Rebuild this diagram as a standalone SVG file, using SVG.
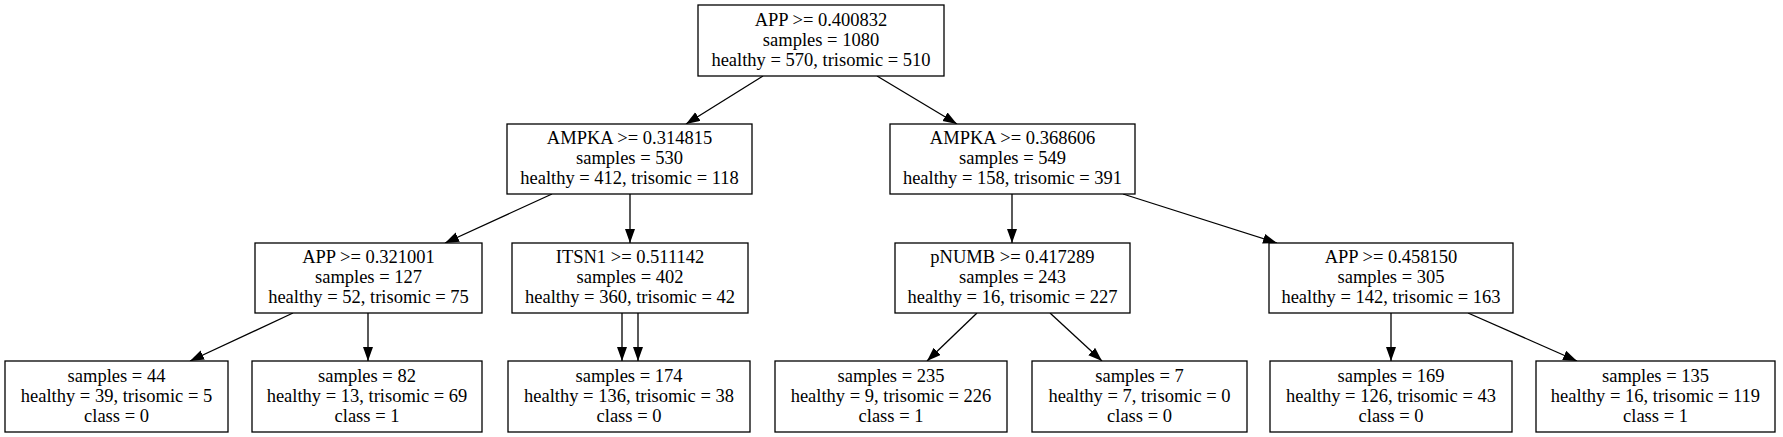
<svg xmlns="http://www.w3.org/2000/svg" width="1783" height="437" viewBox="0 0 1783 437">
<style>
.box{fill:#fff;stroke:#000;stroke-width:1.3}
.e{stroke:#000;stroke-width:1.3;fill:none;marker-end:url(#ah)}
text{font-family:"Liberation Serif","Times New Roman",serif;font-size:18.5px;fill:#000;text-anchor:middle}
</style>
<defs>
<marker id="ah" markerUnits="userSpaceOnUse" markerWidth="15" markerHeight="12" refX="14" refY="5" orient="auto">
<path d="M0,0 L14,5 L0,10 z" fill="#000"/>
</marker>
</defs>
<rect width="1783" height="437" fill="#fff"/>
<g id="connectors">
<line class="e" x1="763" y1="76" x2="686" y2="124"/>
<line class="e" x1="877" y1="76" x2="957" y2="124"/>
<line class="e" x1="552" y1="194" x2="445" y2="243"/>
<line class="e" x1="630" y1="194" x2="630" y2="243"/>
<line class="e" x1="1012" y1="194" x2="1012" y2="243"/>
<line class="e" x1="1123" y1="194" x2="1277" y2="243"/>
<line class="e" x1="293" y1="313" x2="190" y2="361"/>
<line class="e" x1="368" y1="313" x2="368" y2="361"/>
<line class="e" x1="622" y1="313" x2="622" y2="361"/>
<line class="e" x1="638" y1="313" x2="638" y2="361"/>
<line class="e" x1="977" y1="313" x2="927" y2="361"/>
<line class="e" x1="1050" y1="313" x2="1102" y2="361"/>
<line class="e" x1="1391" y1="313" x2="1391" y2="361"/>
<line class="e" x1="1468" y1="313" x2="1577" y2="361"/>
</g>
<g id="n0"><rect class="box" x="698" y="5" width="246" height="71"/>
<text x="821" y="26">APP &gt;= 0.400832</text><text x="821" y="46">samples = 1080</text><text x="821" y="66">healthy = 570, trisomic = 510</text></g>
<g id="n1"><rect class="box" x="507" y="124" width="245" height="70"/>
<text x="629.5" y="144">AMPKA &gt;= 0.314815</text><text x="629.5" y="164">samples = 530</text><text x="629.5" y="184">healthy = 412, trisomic = 118</text></g>
<g id="n2"><rect class="box" x="890" y="124" width="245" height="70"/>
<text x="1012.5" y="144">AMPKA &gt;= 0.368606</text><text x="1012.5" y="164">samples = 549</text><text x="1012.5" y="184">healthy = 158, trisomic = 391</text></g>
<g id="n3"><rect class="box" x="255" y="243" width="227" height="70"/>
<text x="368.5" y="263">APP &gt;= 0.321001</text><text x="368.5" y="283">samples = 127</text><text x="368.5" y="303">healthy = 52, trisomic = 75</text></g>
<g id="n4"><rect class="box" x="512" y="243" width="236" height="70"/>
<text x="630" y="263">ITSN1 &gt;= 0.511142</text><text x="630" y="283">samples = 402</text><text x="630" y="303">healthy = 360, trisomic = 42</text></g>
<g id="n5"><rect class="box" x="895" y="243" width="235" height="70"/>
<text x="1012.5" y="263">pNUMB &gt;= 0.417289</text><text x="1012.5" y="283">samples = 243</text><text x="1012.5" y="303">healthy = 16, trisomic = 227</text></g>
<g id="n6"><rect class="box" x="1269" y="243" width="244" height="70"/>
<text x="1391" y="263">APP &gt;= 0.458150</text><text x="1391" y="283">samples = 305</text><text x="1391" y="303">healthy = 142, trisomic = 163</text></g>
<g id="n7"><rect class="box" x="5" y="361" width="223" height="71"/>
<text x="116.5" y="382">samples = 44</text><text x="116.5" y="402">healthy = 39, trisomic = 5</text><text x="116.5" y="422">class = 0</text></g>
<g id="n8"><rect class="box" x="252" y="361" width="230" height="71"/>
<text x="367" y="382">samples = 82</text><text x="367" y="402">healthy = 13, trisomic = 69</text><text x="367" y="422">class = 1</text></g>
<g id="n9"><rect class="box" x="508" y="361" width="242" height="71"/>
<text x="629" y="382">samples = 174</text><text x="629" y="402">healthy = 136, trisomic = 38</text><text x="629" y="422">class = 0</text></g>
<g id="n10"><rect class="box" x="775" y="361" width="232" height="71"/>
<text x="891" y="382">samples = 235</text><text x="891" y="402">healthy = 9, trisomic = 226</text><text x="891" y="422">class = 1</text></g>
<g id="n11"><rect class="box" x="1032" y="361" width="215" height="71"/>
<text x="1139.5" y="382">samples = 7</text><text x="1139.5" y="402">healthy = 7, trisomic = 0</text><text x="1139.5" y="422">class = 0</text></g>
<g id="n12"><rect class="box" x="1270" y="361" width="242" height="71"/>
<text x="1391" y="382">samples = 169</text><text x="1391" y="402">healthy = 126, trisomic = 43</text><text x="1391" y="422">class = 0</text></g>
<g id="n13"><rect class="box" x="1536" y="361" width="239" height="71"/>
<text x="1655.5" y="382">samples = 135</text><text x="1655.5" y="402">healthy = 16, trisomic = 119</text><text x="1655.5" y="422">class = 1</text></g>
</svg>
